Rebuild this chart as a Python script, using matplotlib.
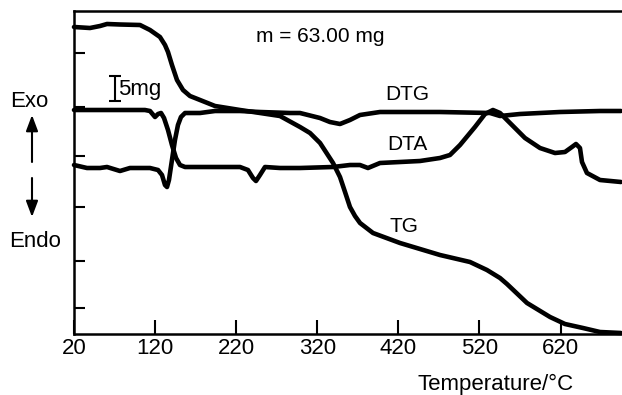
import matplotlib
matplotlib.use("Agg")
import matplotlib.pyplot as plt

plt.rcParams['font.family'] = ['Liberation Sans', 'DejaVu Sans']

# ---- data (temperature in deg C, signal in arbitrary chart units) ----
tg_T = [20.0, 39.7, 52.1, 60.7, 76.7, 101.4, 113.7, 126.0, 132.2, 135.9, 140.8,
        147.0, 154.4, 163.0, 175.4, 193.9, 224.7, 249.4, 274.0, 298.7, 311.0,
        323.4, 339.4, 348.0, 354.2, 360.3, 366.5, 372.7, 388.7, 422.0, 471.3,
        508.3, 529.2, 545.3, 553.9, 578.6, 607.0, 625.4, 647.6, 668.6, 694.5]
tg_S = [307, 306, 308, 310, 309.5, 309, 304, 297, 289, 282, 269,
        254, 244, 238, 234, 228, 224, 221, 218, 207, 201,
        191, 171, 157, 142, 127, 118, 111, 101, 91, 79,
        72, 64, 56, 50, 31, 17, 10, 6, 2, 1]

dtg_T = [20.0, 36.0, 52.1, 60.7, 76.7, 89.0, 113.7, 123.6, 128.5, 132.2, 134.7,
         137.1, 140.8, 144.5, 148.2, 151.9, 156.9, 175.4, 193.9, 224.7, 249.3,
         286.3, 298.7, 323.3, 335.6, 348.0, 360.3, 372.6, 397.3, 446.6, 471.3,
         533.0, 545.3, 569.9, 619.2, 668.6, 694.5]
dtg_S = [169, 166, 166, 167, 163, 166, 166, 164, 159, 149, 147,
         154, 174, 194, 209, 217, 221, 221, 223, 223, 222,
         221, 221, 216, 212, 210, 214, 219, 222, 222, 222,
         221, 218, 220, 222, 223, 223]

dta_T = [20.0, 107.5, 113.7, 119.9, 123.6, 127.3, 131.0, 135.9, 140.8, 145.8,
         150.7, 156.9, 175.4, 224.7, 234.5, 240.7, 244.4, 249.3, 255.5, 274.0,
         298.7, 339.3, 360.3, 372.6, 382.5, 397.3, 422.0, 446.6, 471.3, 483.6,
         496.0, 514.4, 526.8, 536.6, 545.3, 557.6, 576.1, 594.6, 613.1, 625.4,
         634.0, 639.0, 643.9, 646.4, 652.5, 668.6, 694.5]
dta_S = [224, 224, 223, 217, 220, 221, 216, 204, 189, 176,
         169, 167, 167, 167, 164, 156, 153, 159, 167, 166,
         166, 167, 169, 169, 166, 171, 172, 173, 176, 179,
         189, 207, 220, 224, 221, 211, 196, 186, 181, 182,
         187, 190, 186, 172, 161, 154, 152]

x_ticks = [20, 120, 220, 320, 420, 520, 620]
x_tick_labels = ['20', '120', '220', '320', '420', '520', '620']
y_ticks = [26, 73, 127, 178, 227, 281]

scale_T = 71.0
scale_center = 245.5
scale_half = 12.5   # 5 mg

# ---- figure ----
fig = plt.figure(figsize=(6.22, 3.95), dpi=100)
ax = fig.add_axes([74 / 622, 1 - 334 / 395, (621 - 74) / 622, (334 - 11) / 395])
ax.set_xlim(20, 694.5)
ax.set_ylim(0, 323)

lw = 3.3
for T, S in ((tg_T, tg_S), (dtg_T, dtg_S), (dta_T, dta_S)):
    ax.plot(T, S, color='black', lw=lw, solid_joinstyle='round',
            solid_capstyle='round', clip_on=False)

for side in ('left', 'top', 'bottom'):
    ax.spines[side].set_linewidth(1.8)
ax.spines['right'].set_visible(False)

ax.set_xticks(x_ticks)
ax.set_xticklabels(x_tick_labels)
ax.set_yticks(y_ticks)
ax.set_yticklabels([])
ax.tick_params(axis='x', direction='in', length=10, width=1.5, labelsize=16, pad=3)
ax.tick_params(axis='y', direction='in', length=8, width=1.5)

# scale bar
ax.errorbar([scale_T], [scale_center], yerr=[scale_half], color='black',
            capsize=4, elinewidth=1.5, capthick=1.5, fmt='none')
ax.text(74.3, 239, '5mg', fontsize=16, ha='left', va='baseline')

ax.text(323.3, 292, 'm = 63.00 mg', fontsize=15, ha='center', va='baseline')
ax.text(430.6, 234, 'DTG', fontsize=15, ha='center', va='baseline')
ax.text(430.6, 184, 'DTA', fontsize=15, ha='center', va='baseline')
ax.text(427.0, 102, 'TG', fontsize=15, ha='center', va='baseline')

fig.text(417 / 622, 5 / 395, 'Temperature/°C', fontsize=16, ha='left', va='baseline')
fig.text(29 / 622, (395 - 107) / 395, 'Exo', fontsize=16, ha='center', va='baseline')
fig.text(35 / 622, (395 - 247) / 395, 'Endo', fontsize=16, ha='center', va='baseline')

arrow_style = dict(arrowstyle='-|>,head_length=0.8,head_width=0.3', color='black',
                   lw=1.5, mutation_scale=12, shrinkA=0, shrinkB=0)
ax.annotate('', xy=(32 / 622, (395 - 115) / 395), xytext=(32 / 622, (395 - 162) / 395),
            xycoords='figure fraction', textcoords='figure fraction',
            arrowprops=arrow_style, annotation_clip=False)
ax.annotate('', xy=(32 / 622, (395 - 217) / 395), xytext=(32 / 622, (395 - 178) / 395),
            xycoords='figure fraction', textcoords='figure fraction',
            arrowprops=arrow_style, annotation_clip=False)

fig.savefig('out.png', dpi=100)
